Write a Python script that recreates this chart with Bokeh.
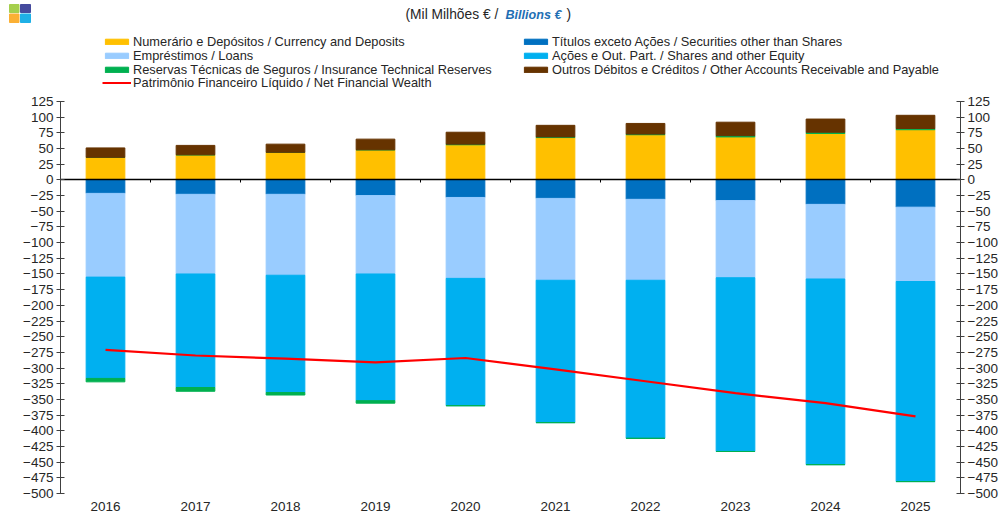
from bokeh.plotting import figure
from bokeh.embed import file_html
from bokeh.resources import INLINE
from bokeh.layouts import column
from bokeh.models import Range1d, LinearAxis, FixedTicker, Legend, LegendItem
from bokeh.core.properties import value
import numpy as np

years = ["2016", "2017", "2018", "2019", "2020", "2021", "2022", "2023", "2024", "2025"]
currency = [36, 40, 44, 48, 56, 67.5, 72, 68.5, 74, 80]
insurance_pos = [0, 0, 0, 0, 1, 1, 1, 2, 2, 2]
other = [15, 15, 13, 17, 19, 18.5, 17, 21.5, 21, 21]
securities = [-21.5, -23, -23, -25, -28, -29.5, -31, -33, -39, -43.5]
loans = [-133.5, -127, -129, -125, -129, -130.5, -129, -123, -119, -118.5]
shares = [-161.5, -181, -187, -202, -203, -227, -252, -277, -296, -319]
insurance_neg = [-5.5, -6, -4, -4, 0, 0, 0, 0, 0, 0]
net_wealth = [-271, -280, -285, -291, -284, -302, -321, -340, -356, -377]

names = {
    "currency": "Numerário e Depósitos / Currency and Deposits",
    "securities": "Títulos exceto Ações / Securities other than Shares",
    "loans": "Empréstimos / Loans",
    "shares": "Ações e Out. Part. / Shares and other Equity",
    "insurance": "Reservas Técnicas de Seguros / Insurance Technical Reserves",
    "other": "Outros Débitos e Créditos / Other Accounts Receivable and Payable",
    "net": "Patrimônio Financeiro Líquido / Net Financial Wealth",
}
colors = {"currency": "#FFC000", "securities": "#0070C0", "loans": "#99CCFF", "shares": "#00B0F0",
          "insurance": "#00B050", "other": "#663300", "net": "#FF0000"}

FONT = "Liberation Sans"
TXT = "#262626"
HEADER_H = 92
y_ticks = list(range(-500, 126, 25))
x_pos = np.arange(len(years)) + 0.5

p = figure(width=1003, height=515 - HEADER_H, output_backend="svg", toolbar_location=None,
           x_range=Range1d(0, len(years)), y_range=Range1d(-500, 125),
           min_border_left=60, min_border_right=43, min_border_top=101 - HEADER_H, min_border_bottom=22,
           frame_width=900, frame_height=392, outline_line_color=None, frame_align=False)
p.grid.visible = False
p.axis.visible = False


def stack(parts):
    top = np.zeros(len(years))
    out = []
    for a in parts:
        b = top + np.array(a, dtype=float)
        out.append((top.copy(), b.copy()))
        top = b
    return out


pos = stack([currency, insurance_pos, other])
neg = stack([securities, loans, shares, insurance_neg])
W = 0.43
for (b, t), key in zip(pos, ["currency", "insurance", "other"]):
    p.vbar(x=x_pos, bottom=b, top=t, width=W, color=colors[key])
for (b, t), key in zip(neg, ["securities", "loans", "shares", "insurance"]):
    p.vbar(x=x_pos, bottom=b, top=t, width=W, color=colors[key])
p.line(x=x_pos, y=net_wealth, color=colors["net"], line_width=2.2)


def y_axis():
    return LinearAxis(ticker=FixedTicker(ticks=y_ticks), axis_line_color="#404040", axis_line_width=1,
                      major_tick_line_color="#404040", major_tick_in=4, major_tick_out=4,
                      minor_tick_line_color=None, major_label_text_font=FONT,
                      major_label_text_font_size="13.5px", major_label_text_color=TXT,
                      major_label_standoff=3)


p.add_layout(y_axis(), "left")
p.add_layout(y_axis(), "right")

# zero line with ticks between the categories
zero = LinearAxis(ticker=FixedTicker(ticks=list(range(len(years) + 1))), fixed_location=0,
                  axis_line_color="black", axis_line_width=1.5, major_tick_line_color="black",
                  major_tick_in=0, major_tick_out=3, minor_tick_line_color=None,
                  major_label_text_color=None, major_label_text_font_size="1px",
                  major_label_standoff=0)
p.add_layout(zero, "below")

# year labels at the foot of the plot
foot = LinearAxis(ticker=FixedTicker(ticks=[float(v) for v in x_pos]),
                  major_label_overrides={float(v): y for v, y in zip(x_pos, years)},
                  axis_line_color=None, major_tick_line_color=None, minor_tick_line_color=None,
                  major_label_text_font=FONT, major_label_text_font_size="13.5px",
                  major_label_text_color=TXT, major_label_standoff=2)
p.add_layout(foot, "below")

# header strip: logo, title and legend, in page pixels
h = figure(width=1003, height=HEADER_H, output_backend="svg", toolbar_location=None,
           x_range=Range1d(0, 1003), y_range=Range1d(HEADER_H, 0),
           min_border=0, outline_line_color=None, frame_align=False)
h.grid.visible = False
h.axis.visible = False

logo_colors = ["#A5CF4D", "#454A9D", "#FBB034", "#1FB0E6"]
h.quad(left=[9, 20, 9, 20], right=[18.5, 30, 18.5, 30], top=[4, 4, 13.5, 13.5],
       bottom=[12, 12, 22, 22], color=logo_colors)

for txt, x, style, col, size in [("(Mil Milhões € / ", 405, "normal", TXT, "13.8px"),
                                 ("Billions €", 505, "bold italic", "#1F6FB4", "12.6px"),
                                 (")", 566, "normal", TXT, "13.8px")]:
    h.text(x=[x], y=[14], text=[txt], text_font=value(FONT), text_font_size=size,
           text_font_style=style, text_color=col, text_baseline="middle")

empty = [float("nan")]
swatch = {k: h.quad(left=empty, right=empty, top=empty, bottom=empty, color=colors[k])
          for k in ["currency", "securities", "loans", "shares", "insurance", "other"]}
swatch["net"] = h.line(x=empty, y=empty, color=colors["net"], line_width=2)

# one legend per row: the reference's rows sit closer than a single legend allows
for keys, row_y in [(["currency", "securities"], 43), (["loans", "shares"], 29),
                    (["insurance", "other"], 15.5), (["net"], 2)]:
    h.add_layout(Legend(
        items=[LegendItem(label=names[k], renderers=[swatch[k]]) for k in keys],
        ncols=2, nrows=1, location=(102, row_y), background_fill_alpha=0, border_line_color=None,
        glyph_width=29, glyph_height=7, label_standoff=2, spacing=0, padding=0, margin=0,
        label_width=388, label_height=10, label_text_font=FONT, label_text_font_size="12.8px",
        label_text_color=TXT), "center")

page = column(h, p, spacing=0)
open("out.html", "w").write(file_html(page, INLINE))
